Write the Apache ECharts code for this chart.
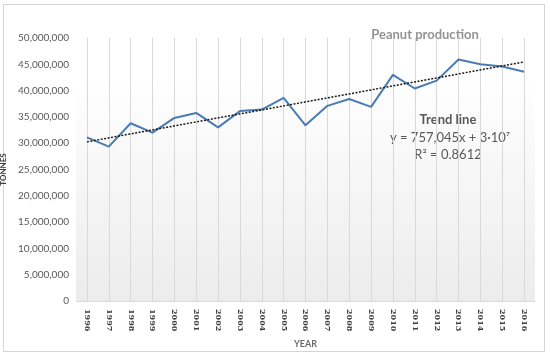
<!DOCTYPE html>
<html><head><meta charset="utf-8">
<script src="https://cdn.jsdelivr.net/npm/echarts@6/dist/echarts.min.js"></script>
<style>html,body{margin:0;padding:0;background:#fff}#c{width:550px;height:357px}</style>
</head><body><div id="c"></div>
<script>
const years = ['1996','1997','1998','1999','2000','2001','2002','2003','2004','2005','2006','2007','2008','2009','2010','2011','2012','2013','2014','2015','2016'];
const production = [31100000,29350000,33800000,32000000,34800000,35750000,33000000,36100000,36400000,38600000,33400000,37100000,38400000,36900000,43000000,40400000,41900000,45900000,45000000,44600000,43600000];
const trendEnds = [['1996',30250000],['2016',45450000]];
const yTicks = [0,5000000,10000000,15000000,20000000,25000000,30000000,35000000,40000000,45000000,50000000];

const chart = echarts.init(document.getElementById('c'), null, {renderer:'canvas'});
const font = 'Lato, "Open Sans", "Liberation Sans", sans-serif';
chart.setOption({
  animation:false,
  graphic:[
    {type:'rect', shape:{x:3.5,y:4.5,width:541,height:347}, style:{fill:'none', stroke:'#d4d4d4', lineWidth:1}, z:-10},
    {type:'text', x:425, y:35, style:{text:'Peanut production', font:'bold 13px '+font, fill:'#939393', align:'center', verticalAlign:'middle'}},
    {type:'text', x:448, y:120, style:{text:'Trend line', font:'bold 13px '+font, fill:'#595959', align:'center', verticalAlign:'middle'}},
    {type:'text', x:450, y:138, style:{text:'y = 757,045x + 3·10⁷', font:'13px '+font, fill:'#595959', align:'center', verticalAlign:'middle'}},
    {type:'text', x:448, y:155, style:{text:'R² = 0.8612', font:'13px '+font, fill:'#595959', align:'center', verticalAlign:'middle'}}
  ],
  grid:{left:76, right:15, top:38, bottom:56, show:true, borderWidth:0, outerBoundsMode:'none', containLabel:false,
    backgroundColor:{type:'linear',x:0,y:0,x2:0,y2:1,colorStops:[{offset:0,color:'#ffffff'},{offset:0.15,color:'#ffffff'},{offset:1,color:'#ececec'}]}},
  xAxis:{type:'category', data:years, boundaryGap:true,
    name:'YEAR', nameLocation:'middle', nameGap:29, nameTextStyle:{fontSize:9, fontWeight:'bold', color:'#6a6a6a', fontFamily:font},
    axisLine:{show:true, lineStyle:{color:'#d9d9d9'}}, axisTick:{show:false},
    axisLabel:{rotate:-90, interval:0, fontSize:8, fontWeight:'bold', color:'#404040', fontFamily:'"DejaVu Serif", serif', margin:8},
    splitLine:{show:true, alignWithLabel:true, lineStyle:{color:'#d9d9d9', width:1}}},
  yAxis:{type:'value', min:0, max:50000000, interval:5000000,
    name:'TONNES', nameLocation:'middle', nameGap:57, nameRotate:90, nameTextStyle:{fontSize:8, fontWeight:'bold', color:'#404040', fontFamily:font},
    axisLine:{show:false}, axisTick:{show:false}, splitLine:{show:false},
    axisLabel:{fontSize:10, color:'#595959', fontFamily:font, margin:7,
      formatter:v=>yTicks.includes(v)?v.toLocaleString('en-US'):''}},
  series:[
    {type:'line', data:production, symbol:'none', lineStyle:{color:'#4a7cb2', width:2}, z:3},
    {type:'line', data:trendEnds, symbol:'none', lineStyle:{color:'#1a1a1a', width:1.5, type:[2,1.5]}, z:4}
  ]
});
</script></body></html>
